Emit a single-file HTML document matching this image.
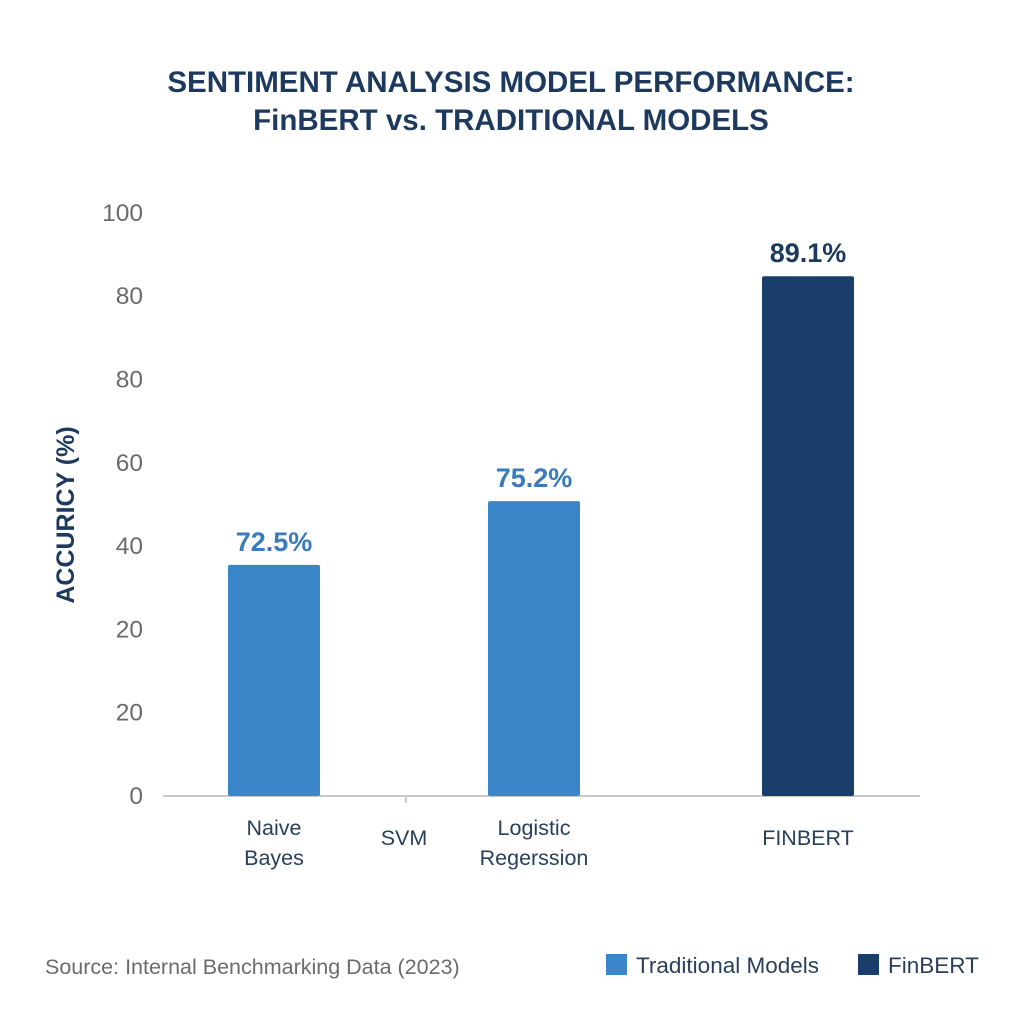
<!DOCTYPE html>
<html><head><meta charset="utf-8">
<style>
html,body{margin:0;padding:0;background:#fff;}
svg{display:block;font-family:"Liberation Sans",Arial,sans-serif;}
</style></head>
<body>
<svg id="chart" width="1024" height="1024" viewBox="0 0 1024 1024">
<rect x="0" y="0" width="1024" height="1024" fill="#fff"/>
<text x="511" y="92" text-anchor="middle" font-size="29.5" font-weight="bold" fill="#1d3a5e">SENTIMENT ANALYSIS MODEL PERFORMANCE:</text>
<text x="511" y="130" text-anchor="middle" font-size="29.5" font-weight="bold" fill="#1d3a5e">FinBERT vs. TRADITIONAL MODELS</text>
<text transform="translate(74,515) rotate(-90)" text-anchor="middle" font-size="25" font-weight="bold" fill="#1d3a5e">ACCURICY  (%)</text>
<g id="yticks"></g>
<line x1="163" y1="796" x2="920" y2="796" stroke="#c8c8c8" stroke-width="2"/>
<line x1="406" y1="796" x2="406" y2="803" stroke="#c8c8c8" stroke-width="2"/>
<g id="bars"></g>
<text x="45" y="974" font-size="21.5" fill="#6b6b6b">Source: Internal Benchmarking Data (2023)</text>
<g>
<rect x="606" y="954" width="21" height="21" fill="#3a86c8"/>
<text x="636" y="973" font-size="22.5" fill="#2a3f5c">Traditional Models</text>
<rect x="858" y="954" width="21" height="21" fill="#1a3e6b"/>
<text x="888" y="973" font-size="22.5" fill="#2a3f5c">FinBERT</text>
</g>
</svg>
<script>
const tickLabels = ["0","20","20","40","60","80","80","100"];
const categories = [["Naive","Bayes"],["SVM"],["Logistic","Regerssion"],["FINBERT"]];
const values = [55.5, 0, 70.8, 124.8];
const valueLabels = ["72.5%", "", "75.2%", "89.1%"];
const groups = ["traditional","traditional","traditional","finbert"];
const slots = [0, 1, 2, 3.1];

const NS = "http://www.w3.org/2000/svg";
const y0 = 796, stepPx = 83.3;
function yScale(v){ return y0 - v / 20 * stepPx; }
function xCenter(s){ return 274 + s * 130; }
function mk(tag, attrs, parent){ const e=document.createElementNS(NS,tag); for(const k in attrs) e.setAttribute(k,attrs[k]); parent.appendChild(e); return e; }

const yt = document.getElementById("yticks");
tickLabels.forEach((t,i)=>{
  const e = mk("text",{x:143,y:yScale(i*20)+8,"text-anchor":"end","font-size":24.5,fill:"#6b6b6b"},yt);
  
  
  e.textContent = t;
});

const bg = document.getElementById("bars");
categories.forEach((c,i)=>{
  let cx = xCenter(slots[i]);
  if (i === 3) cx = 808;
  const col = groups[i]==="finbert" ? "#1a3e6b" : "#3a86c8";
  if (values[i] > 0){
    const top = yScale(values[i]);
    const r = mk("rect",{x:cx-46,y:top,width:92,height:y0-top,fill:col,rx:2},bg);
    
    
    const vl = mk("text",{x:cx,y:top-14,"text-anchor":"middle","font-size":27,"font-weight":"bold",fill:groups[i]==="finbert"?"#1d3a5e":"#3a7bbd"},bg);
    
    
    vl.textContent = valueLabels[i];
  }
  const baseY = c.length === 1 ? 845 : 835;
  c.forEach((ln,j)=>{
    const t = mk("text",{x:cx,y:baseY+j*30,"text-anchor":"middle","font-size":21.5,fill:"#2a3f5c"},bg);
    
    
    t.textContent = ln;
  });
});
</script>
</body></html>
